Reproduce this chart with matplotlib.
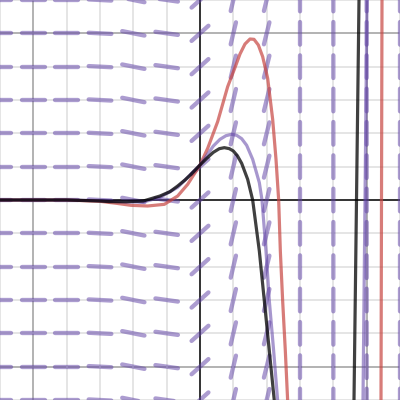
import matplotlib.pyplot as plt
import numpy as np
from matplotlib.collections import LineCollection

# slope field: one slope per integer column x = -6..6 (same in every row)
field_x = list(range(-6, 7))
field_y = list(range(-6, 7))
field_slope = [0, 0, 0, -0.05, -0.2, -0.14, 0.9, 4.2, 4.0, 1e4, 1e4, 1e4, 1e4]

# curves
black_x = [-6, -4, -3, -2.7, -2.2, -1.7, -1.2, -0.9, -0.67, -0.45, -0.27, 0, 0.2, 0.4, 0.58,
           0.73, 0.88, 1.0, 1.12, 1.25, 1.43, 1.58, 1.78, 1.93, 2.08, 2.23, 2.6, 3.5, 4.4, 4.62,
           4.77, 4.9]
black_y = [0, 0, -0.03, -0.05, -0.05, -0.03, 0.12, 0.25, 0.42, 0.6, 0.77, 1.05, 1.25, 1.43, 1.54,
           1.57, 1.54, 1.47, 1.33, 1.1, 0.62, 0.0, -1.53, -3.03, -4.53, -6.03, -12, -20, -12, -6,
           6, 12]

purple_x = [-6, -4, -3, -2.2, -1.7, -1.2, -0.67, -0.3, 0, 0.2, 0.4, 0.6, 0.78, 0.95, 1.1, 1.25,
            1.4, 1.58, 1.78, 1.86, 1.98, 2.08, 2.21, 2.33, 2.7, 3.6, 4.6, 4.89, 5.01, 5.1]
purple_y = [0, 0, -0.02, -0.06, -0.06, 0.08, 0.38, 0.75, 1.05, 1.33, 1.62, 1.82, 1.93, 1.97, 1.94,
            1.84, 1.64, 1.22, 0.52, 0.0, -1.53, -3.03, -4.53, -6.03, -12, -20, -12, -6, 6, 12]

red_x = [-6, -4, -3, -2.5, -2.07, -1.57, -1.07, -0.67, -0.37, 0, 0.23, 0.53, 0.83, 1.03, 1.2,
         1.35, 1.5, 1.62, 1.75, 1.88, 2.03, 2.18, 2.28, 2.36, 2.41, 2.48, 2.56, 2.63, 3.0, 4.0,
         5.0, 5.43, 5.46, 5.49]
red_y = [0, 0, -0.04, -0.1, -0.16, -0.18, -0.13, 0.12, 0.47, 1.05, 1.55, 2.35, 3.4, 3.92, 4.38,
         4.68, 4.83, 4.82, 4.65, 4.3, 3.65, 2.42, 1.22, 0, -1.53, -3.03, -4.53, -6.03, -15, -25,
         -15, -6, 6, 12]

fig = plt.figure(figsize=(4, 4), dpi=100)
ax = fig.add_axes([0, 0, 1, 1])
ax.set_xlim(-6, 6)
ax.set_ylim(-6, 6)
ax.set_axis_off()

# grid
for v in range(-6, 7):
    if v == 0:
        continue
    c, lw = ('#a6a6a6', 1.2) if abs(v) == 5 else ('#dedede', 1.1)
    ax.axvline(v, color=c, lw=lw, zorder=0)
    ax.axhline(v, color=c, lw=lw, zorder=0)
ax.axvline(0, color='#222222', lw=1.3, zorder=1)
ax.axhline(0, color='#222222', lw=1.3, zorder=1)

# slope segments
half = 0.34
segs = []
for x0, s in zip(field_x, field_slope):
    a = np.arctan(s)
    dx, dy = half * np.cos(a), half * np.sin(a)
    for y0 in field_y:
        segs.append([(x0 - dx, y0 - dy), (x0 + dx, y0 + dy)])
lc = LineCollection(segs, colors='#6042a6', alpha=0.52, linewidths=3.1, capstyle='round', zorder=2)
ax.add_collection(lc)

ax.plot(red_x, red_y, color='#c74440', alpha=0.7, lw=2.3, zorder=3, solid_capstyle='round')
ax.plot(purple_x, purple_y, color='#6042a6', alpha=0.55, lw=2.3, zorder=4, solid_capstyle='round')
ax.plot(black_x, black_y, color='#000000', alpha=0.75, lw=2.3, zorder=5, solid_capstyle='round')

fig.savefig('out.png', dpi=100)
